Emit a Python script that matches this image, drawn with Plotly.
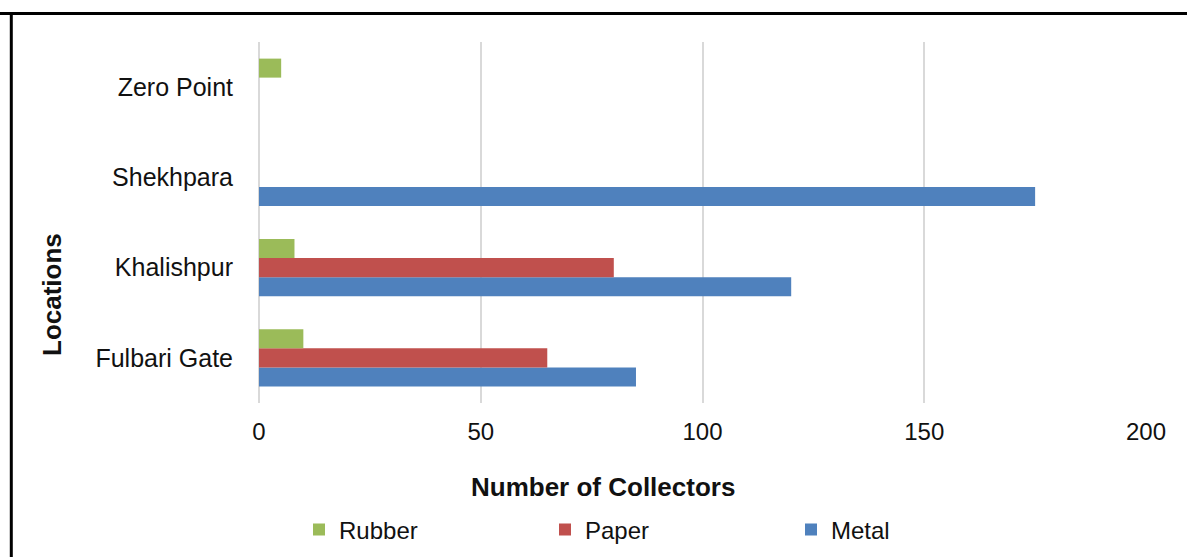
import plotly.graph_objects as go

locations = ["Fulbari Gate", "Khalishpur", "Shekhpara", "Zero Point"]
metal = [85, 120, 175, 0]
paper = [65, 80, 0, 0]
rubber = [10, 8, 0, 5]
x_ticks = [0, 50, 100, 150, 200]

FONT = "Liberation Sans, Arial, sans-serif"
W, H = 1187, 557
L, R, T, B = 259, 41, 42, 154
pw, ph = W - L - R, H - T - B


def px(x):
    return (x - L) / pw


def py(y):
    return (H - B - y) / ph


fig = go.Figure()
fig.add_trace(go.Bar(y=locations, x=metal, name="Metal", orientation="h",
                     marker=dict(color="#4F81BD", line=dict(width=0))))
fig.add_trace(go.Bar(y=locations, x=paper, name="Paper", orientation="h",
                     marker=dict(color="#C0504D", line=dict(width=0))))
fig.add_trace(go.Bar(y=locations, x=rubber, name="Rubber", orientation="h",
                     marker=dict(color="#9BBB59", line=dict(width=0))))

fig.update_layout(
    width=W, height=H,
    margin=dict(l=L, r=R, t=T, b=B, autoexpand=False),
    paper_bgcolor="white", plot_bgcolor="white",
    barmode="group", bargap=0.368, bargroupgap=0,
    font=dict(family=FONT, size=22, color="#111111"),
    showlegend=True,
    legend=dict(orientation="h", traceorder="reversed",
                x=px(299), xanchor="left", y=py(530), yanchor="middle",
                entrywidth=201, font=dict(size=24, family=FONT),
                itemclick=False),
    xaxis=dict(range=[0, 200], tickvals=x_ticks, showgrid=True,
               gridcolor="#d9d9d9", gridwidth=2, zeroline=True,
               zerolinecolor="#d9d9d9", zerolinewidth=2, showline=False,
               ticks="outside", ticklen=7, tickcolor="rgba(0,0,0,0)",
               tickfont=dict(size=24), automargin=False),
    yaxis=dict(showgrid=False, zeroline=False, showline=False,
               ticks="outside", ticklen=20, tickcolor="rgba(0,0,0,0)",
               tickfont=dict(size=25), automargin=False),
    annotations=[
        dict(text="<b>Number of Collectors</b>", xref="paper", yref="paper",
             x=px(603), y=py(487), xanchor="center", yanchor="middle",
             showarrow=False, font=dict(size=26, family=FONT, color="#111111")),
        dict(text="<b>Locations</b>", xref="paper", yref="paper",
             x=px(52), y=py(295), xanchor="center", yanchor="middle",
             textangle=-90, showarrow=False,
             font=dict(size=26, family=FONT, color="#111111")),
    ],
    shapes=[
        dict(type="line", xref="paper", yref="paper", x0=px(0), x1=px(W),
             y0=py(13.5), y1=py(13.5), line=dict(color="black", width=3)),
        dict(type="line", xref="paper", yref="paper", x0=px(11.3), x1=px(11.3),
             y0=py(12), y1=py(H + 10), line=dict(color="black", width=3)),
    ],
)

fig.write_html("out.html")
